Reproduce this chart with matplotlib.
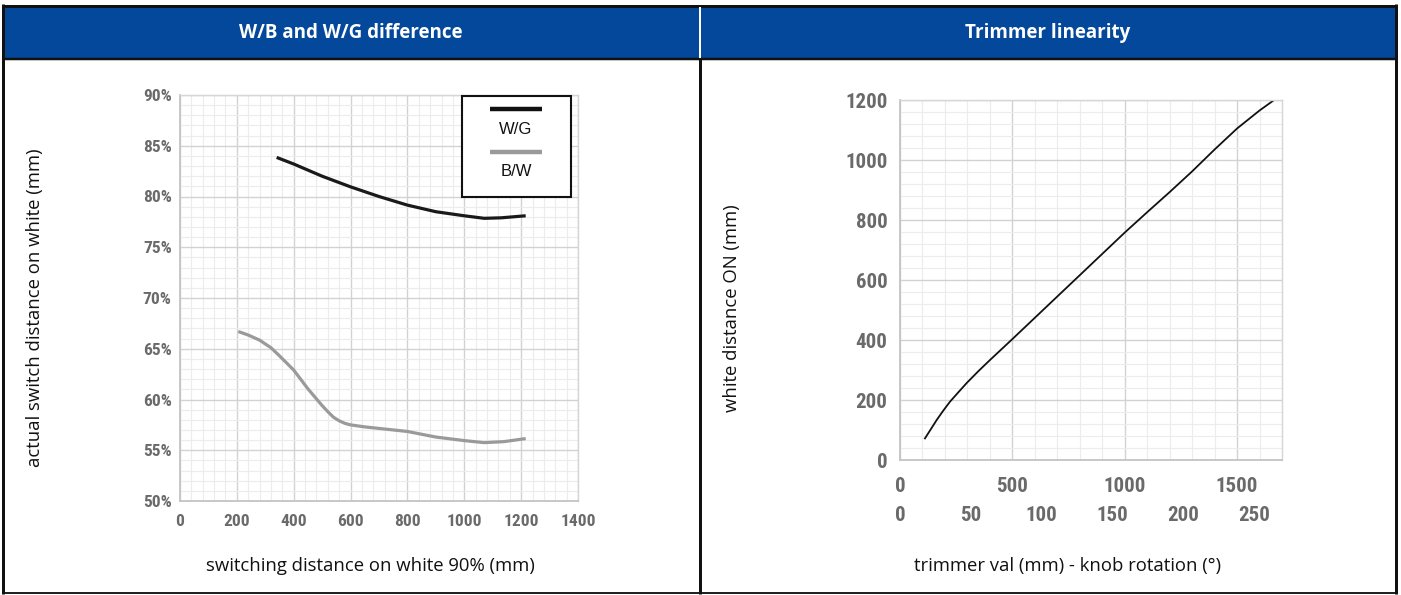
import matplotlib
matplotlib.use("Agg")
import matplotlib.pyplot as plt
from matplotlib.lines import Line2D
from matplotlib.patches import Rectangle
from matplotlib.ticker import MultipleLocator, FixedLocator

# ---------------- data ----------------
wg_x = [340, 400, 500, 600, 700, 800, 900, 1000, 1070, 1130, 1216]
wg_y = [83.85, 83.2, 82.0, 80.95, 80.0, 79.15, 78.5, 78.1, 77.85, 77.9, 78.1]

bw_x = [205, 240, 280, 320, 350, 375, 400, 450, 500, 520, 540, 560, 580, 600, 650, 700, 800, 900, 1000, 1070, 1140, 1216]
bw_y = [66.7, 66.35, 65.85, 65.1, 64.3, 63.6, 62.9, 61.05, 59.4, 58.8, 58.25, 57.9, 57.65, 57.5, 57.3, 57.15, 56.85, 56.3, 55.95, 55.75, 55.85, 56.15]

trim_x = [111, 140, 163, 190, 222, 260, 296, 350, 400, 500, 600, 700, 800, 900, 1000, 1100, 1200, 1300, 1400, 1500, 1600, 1665]
trim_y = [72, 106, 133, 162, 194, 226, 256, 297, 333, 403, 474, 545, 616, 687, 758, 826, 893, 962, 1035, 1105, 1165, 1200]

left_title = "W/B and W/G difference"
right_title = "Trimmer linearity"
left_xticks = [0, 200, 400, 600, 800, 1000, 1200, 1400]
left_yticks = [50, 55, 60, 65, 70, 75, 80, 85, 90]
right_xticks = [0, 500, 1000, 1500]
right_deg_ticks = [0, 50, 100, 150, 200, 250]
right_yticks = [0, 200, 400, 600, 800, 1000, 1200]

# ---------------- layout ----------------
W, H = 1401, 595
def fx(x): return x / W
def fy(y): return 1 - y / H

fig = plt.figure(figsize=(W / 100, H / 100), dpi=100)
fig.patch.set_facecolor("white")

BLUE = "#03489A"
TICK_FONT = ["Roboto Condensed", "Liberation Sans Narrow", "Roboto", "DejaVu Sans"]
LABEL_FONT = ["Open Sans", "DejaVu Sans"]
TICK_COLOR = "#6a6a6a"

# header band
fig.add_artist(Rectangle((fx(3), fy(58)), fx(1396) - fx(3), fy(7) - fy(58),
                         transform=fig.transFigure, facecolor=BLUE, edgecolor="none", zorder=0))
def hline(y, x0, x1, lw, c):
    fig.add_artist(Line2D([fx(x0), fx(x1)], [fy(y), fy(y)], transform=fig.transFigure,
                          color=c, lw=lw * 0.72, solid_capstyle="butt"))
def vline(x, y0, y1, lw, c):
    fig.add_artist(Line2D([fx(x), fx(x)], [fy(y0), fy(y1)], transform=fig.transFigure,
                          color=c, lw=lw * 0.72, solid_capstyle="butt"))

hline(5.5, 2, 1397, 3, "#111111")
hline(59, 2, 1397, 2.5, "#111111")
hline(593, 2, 1397, 2, "#222222")
vline(3, 4, 594, 3, "#111111")
vline(1396, 4, 594, 3, "#111111")
vline(700, 7, 58, 2, "white")
vline(700, 59, 594, 3, "#111111")

fig.text(fx(351), fy(33), left_title, color="white", fontsize=13.5, fontweight="bold",
         family=LABEL_FONT, ha="center", va="center")
fig.text(fx(1048), fy(33), right_title, color="white", fontsize=13.5, fontweight="bold",
         family=LABEL_FONT, ha="center", va="center")

def style_axes(ax):
    ax.grid(which="major", color="#d2d2d2", lw=1.0)
    ax.grid(which="minor", color="#ececec", lw=0.8)
    ax.set_axisbelow(True)
    for s in ["top", "right"]:
        ax.spines[s].set_color("#d6d6d6")
        ax.spines[s].set_linewidth(1.0)
    for s in ["left", "bottom"]:
        ax.spines[s].set_color("#c4c4c4")
        ax.spines[s].set_linewidth(1.3)
    ax.tick_params(which="both", length=0)

# ---------------- left chart ----------------
axL = fig.add_axes([fx(180), fy(501), fx(578) - fx(180), fy(95) - fy(501)])
style_axes(axL)
axL.set_xlim(0, 1400)
axL.set_ylim(50, 90)
axL.xaxis.set_major_locator(FixedLocator(left_xticks))
axL.xaxis.set_minor_locator(MultipleLocator(40))
axL.yaxis.set_major_locator(FixedLocator(left_yticks))
axL.yaxis.set_minor_locator(MultipleLocator(1))
axL.set_xticklabels([str(t) for t in left_xticks])
axL.set_yticklabels([f"{t}%" for t in left_yticks])
for lab in axL.get_xticklabels() + axL.get_yticklabels():
    lab.set_family(TICK_FONT); lab.set_fontweight("bold"); lab.set_fontsize(12.5); lab.set_color(TICK_COLOR)
axL.tick_params(axis="x", pad=9.5)
axL.tick_params(axis="y", pad=6)

axL.plot(wg_x, wg_y, color="#1a1a1a", lw=2.3, solid_capstyle="butt", solid_joinstyle="round")
axL.plot(bw_x, bw_y, color="#9a9a9a", lw=2.3, solid_capstyle="butt", solid_joinstyle="round")

# legend box (lines above labels)
axL.add_patch(Rectangle((0.7085, 0.749), 0.2735, 0.2485, transform=axL.transAxes,
                        facecolor="white", edgecolor="#111111", lw=1.5, zorder=5, clip_on=False))
axL.add_line(Line2D([0.779, 0.9095], [0.9655, 0.9655], transform=axL.transAxes,
                    color="#111111", lw=3.2, solid_capstyle="butt", zorder=6))
axL.add_line(Line2D([0.779, 0.9095], [0.860, 0.860], transform=axL.transAxes,
                    color="#9a9a9a", lw=3.2, solid_capstyle="butt", zorder=6))
axL.text(0.844, 0.914, "W/G", transform=axL.transAxes, ha="center", va="center",
         fontsize=12, family=["Liberation Sans", "DejaVu Sans"], color="#111111", zorder=7)
axL.text(0.844, 0.811, "B/W", transform=axL.transAxes, ha="center", va="center",
         fontsize=12, family=["Liberation Sans", "DejaVu Sans"], color="#111111", zorder=7)

fig.text(fx(35), fy(308), "actual switch distance on white (mm)", rotation=90,
         ha="center", va="center", fontsize=13.3, family=LABEL_FONT, color="#111111")
fig.text(fx(370), fy(566), "switching distance on white 90% (mm)",
         ha="center", va="center", fontsize=13.3, family=LABEL_FONT, color="#111111")

# ---------------- right chart ----------------
axR = fig.add_axes([fx(900), fy(460), fx(1282) - fx(900), fy(100) - fy(460)])
style_axes(axR)
axR.set_xlim(0, 1700)
axR.set_ylim(0, 1200)
axR.xaxis.set_major_locator(FixedLocator(right_xticks))
axR.xaxis.set_minor_locator(MultipleLocator(100))
axR.yaxis.set_major_locator(FixedLocator(right_yticks))
axR.yaxis.set_minor_locator(MultipleLocator(40))
axR.set_xticklabels([str(t) for t in right_xticks])
axR.set_yticklabels([str(t) for t in right_yticks])
for lab in axR.get_xticklabels() + axR.get_yticklabels():
    lab.set_family(TICK_FONT); lab.set_fontweight("bold"); lab.set_fontsize(15); lab.set_color(TICK_COLOR)
axR.tick_params(axis="x", pad=12)
axR.tick_params(axis="y", pad=9)

sec = axR.secondary_xaxis("bottom", functions=(lambda m: m * 270 / 1700, lambda d: d * 1700 / 270))
sec.xaxis.set_major_locator(FixedLocator(right_deg_ticks))
sec.set_xticklabels([str(t) for t in right_deg_ticks])
sec.spines["bottom"].set_visible(False)
sec.tick_params(length=0, pad=33)
for lab in sec.get_xticklabels():
    lab.set_family(TICK_FONT); lab.set_fontweight("bold"); lab.set_fontsize(15); lab.set_color(TICK_COLOR)

axR.plot(trim_x, trim_y, color="#111111", lw=1.3, solid_joinstyle="round", clip_on=True)

fig.text(fx(732), fy(308), "white distance ON (mm)", rotation=90,
         ha="center", va="center", fontsize=13.3, family=LABEL_FONT, color="#111111")
fig.text(fx(1067), fy(566), "trimmer val (mm) - knob rotation (°)",
         ha="center", va="center", fontsize=13.3, family=LABEL_FONT, color="#111111")

fig.savefig("out.png", dpi=100, facecolor="white")
